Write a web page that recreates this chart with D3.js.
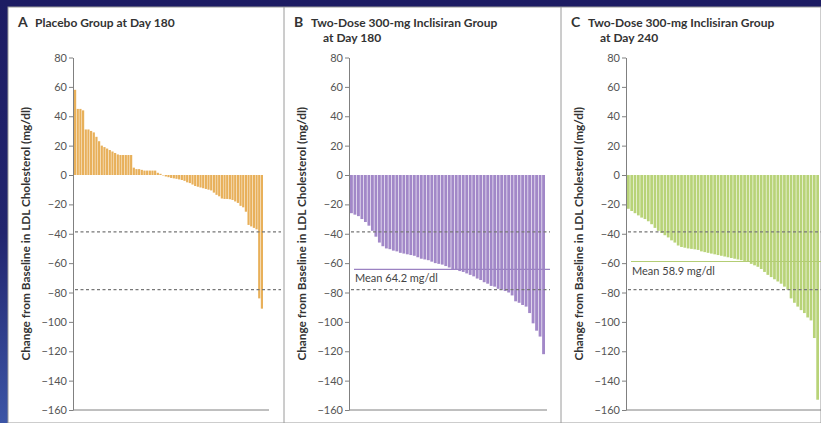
<!DOCTYPE html>
<html>
<head>
<meta charset="utf-8">
<script src="https://cdn.jsdelivr.net/npm/d3@7"></script>
<style>
  body { margin: 0; background: #1d1c63; }
  svg { display: block; font-family: Lato, "Open Sans", sans-serif; }
</style>
</head>
<body>
<svg id="chart"></svg>
<script>
// values (mg/dl change from baseline, sorted)
const placeboDay180 = [58, 45, 45, 44, 31, 31, 30, 29, 26, 23, 20, 19, 18, 17, 16, 15, 14, 13.6, 13.6, 13.6,
  13.6, 13.6, 5, 4, 4, 3.5, 3, 3, 3, 3, 3, 1.5, 0.8, -0.3, -1, -1.5, -2, -2.3, -2.6, -3,
  -3.4, -4, -5, -5.5, -6.5, -7.5, -8, -8.5, -9, -9.5, -10, -10.5, -12, -13.5, -14.5, -16, -16.3, -16.3, -16.5, -17,
  -18, -19, -21, -22, -25, -34, -35, -36, -37, -84, -91];
const inclisiranDay180 = [-26, -27, -28, -30, -32, -34.5, -38, -42, -46, -48.5, -50, -50.5, -51.5, -52, -53, -53.5,
  -54, -54.5, -55, -56, -57, -57.5, -58, -59, -60, -60.5, -61, -62, -63, -64, -64.5, -65.4, -66, -67, -68, -69,
  -70.5, -71.5, -73, -74, -75.5, -76, -77.5, -78, -79, -80, -82, -86, -87, -88.5, -89.6, -94, -101, -106, -110, -122];
const inclisiranDay240 = [-23, -24.5, -26, -27.5, -29, -30, -31.5, -33.5, -36, -38, -39.5, -41, -42.5, -44.5, -46, -48,
  -49, -49.5, -50, -50.3, -50.6, -51, -52, -52.5, -53, -53.5, -54, -54.5, -55, -55.5, -56, -56.5, -57, -57.5, -58,
  -58.5, -59, -60.5, -61.5, -62.5, -64, -66, -68, -69.5, -71, -72.5, -74, -76, -78, -84, -87, -89.6, -92, -94, -97,
  -99, -111, -153];

const yTicks = [80, 60, 40, 20, 0, -20, -40, -60, -80, -100, -120, -140, -160];
const thresholds = [-38.7, -78];
const panelLetters = ["A", "B", "C"];
const panelTitles = [["Placebo Group at Day 180"], ["Two-Dose 300-mg Inclisiran Group", "at Day 180"], ["Two-Dose 300-mg Inclisiran Group", "at Day 240"]];
const means = [null, 64.2, 58.9];
const yLabel = "Change from Baseline in LDL Cholesterol (mg/dl)";

const W = 821, H = 423;
const svg = d3.select("#chart").attr("width", W).attr("height", H);

// slide background
const defs = svg.append("defs");
const grad = defs.append("linearGradient").attr("id", "bg").attr("x1", 0).attr("y1", 0).attr("x2", 0).attr("y2", 1);
grad.append("stop").attr("offset", "0%").attr("stop-color", "#1d1c63");
grad.append("stop").attr("offset", "55%").attr("stop-color", "#22256e");
grad.append("stop").attr("offset", "100%").attr("stop-color", "#3c55a6");
svg.append("rect").attr("width", W).attr("height", H).attr("fill", "url(#bg)");
svg.append("rect").attr("x", 8).attr("y", 7).attr("width", W - 8).attr("height", H - 7)
  .attr("fill", "#fff").attr("stroke", "#9a9a9a").attr("stroke-width", 1);

const y = d3.scaleLinear().domain([80, -160]).range([57.5, 410]);

const panels = [
  { left: 8, axisX: 73, barEnd: 263, xEnd: 269, dashEnd: 281, data: placeboDay180, color: "#e8b05a", meanColor: null },
  { left: 284, axisX: 349, barEnd: 545, xEnd: 547, dashEnd: 550, data: inclisiranDay180, color: "#a288c8", meanColor: "#9b82c2" },
  { left: 561, axisX: 626, barEnd: 819, xEnd: 821, dashEnd: 821, data: inclisiranDay240, color: "#b8d378", meanColor: "#b3cd74" }
];

panels.forEach((p, k) => {
  const g = svg.append("g");
  if (k > 0) {
    g.append("line").attr("x1", p.left).attr("x2", p.left).attr("y1", 7).attr("y2", H)
      .attr("stroke", "#9a9a9a");
  }

  // title
  g.append("text").attr("x", p.left + 10).attr("y", 27)
    .attr("font-size", 14).attr("font-weight", "bold").attr("fill", "#333").text(panelLetters[k]);
  panelTitles[k].forEach((t, i) => {
    g.append("text").attr("x", p.left + (i === 0 ? 27 : 39)).attr("y", 27 + i * 15)
      .attr("font-size", 12).attr("font-weight", "bold").attr("fill", "#333").text(t);
  });

  // y label
  g.append("text")
    .attr("transform", `translate(${p.left + 22},${y(-40)}) rotate(-90)`)
    .attr("text-anchor", "middle").attr("font-size", 11.8).attr("font-weight", "bold").attr("fill", "#333")
    .text(yLabel);

  const x = d3.scaleBand().domain(d3.range(p.data.length))
    .range([p.axisX + 1, p.barEnd]).paddingInner(0.18).paddingOuter(0);

  g.append("g").selectAll("rect").data(p.data).join("rect")
    .attr("x", (d, i) => x(i))
    .attr("width", x.bandwidth())
    .attr("y", d => Math.min(y(d), y(0)))
    .attr("height", d => Math.abs(y(d) - y(0)))
    .attr("fill", p.color);

  // threshold dashed lines
  g.append("g").selectAll("line").data(thresholds).join("line")
    .attr("x1", p.axisX + 2).attr("x2", p.dashEnd)
    .attr("y1", d => y(d)).attr("y2", d => y(d))
    .attr("stroke", "#777").attr("stroke-width", 1.2).attr("stroke-dasharray", "3,2.5");

  // mean line
  if (means[k] !== null) {
    g.append("line").attr("x1", p.axisX + 5).attr("x2", p.dashEnd)
      .attr("y1", y(-means[k])).attr("y2", y(-means[k]))
      .attr("stroke", p.meanColor).attr("stroke-width", 1.2);
    g.append("text").attr("x", p.axisX + 6).attr("y", y(-means[k]) + 13)
      .attr("font-size", 11).attr("fill", "#444").text(`Mean ${means[k]} mg/dl`);
  }

  // axes
  const yAxis = d3.axisLeft(y).tickValues(yTicks).tickSize(4).tickSizeOuter(0).tickPadding(2)
    .tickFormat(d => d < 0 ? "\u2212" + Math.abs(d) : d);
  const ya = g.append("g").attr("transform", `translate(${p.axisX},0)`).call(yAxis);
  ya.select(".domain").attr("stroke", "#808080");
  ya.selectAll(".tick line").attr("stroke", "#808080");
  ya.selectAll(".tick text").attr("font-size", 11).attr("fill", "#555")
    .attr("font-family", "Lato, sans-serif");

  g.append("line").attr("x1", p.axisX).attr("x2", p.xEnd)
    .attr("y1", y(-160)).attr("y2", y(-160)).attr("stroke", "#808080");
});
</script>
</body>
</html>
